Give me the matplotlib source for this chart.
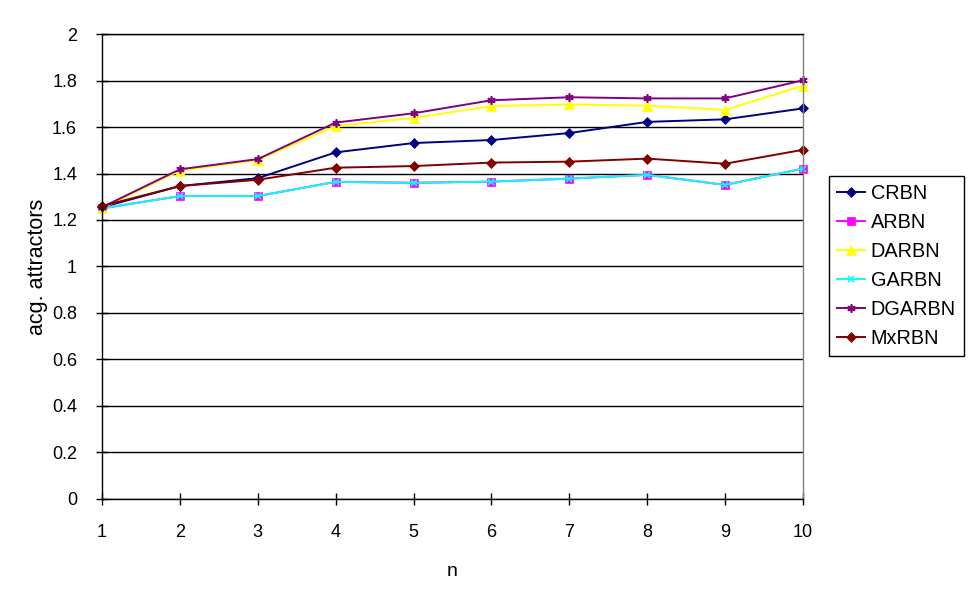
import matplotlib
matplotlib.use('Agg')
from matplotlib import pyplot as plt

plt.rcParams['font.family'] = ['Liberation Sans', 'DejaVu Sans']

n = [1, 2, 3, 4, 5, 6, 7, 8, 9, 10]

crbn   = [1.255, 1.346, 1.380, 1.491, 1.531, 1.544, 1.574, 1.622, 1.633, 1.680]
arbn   = [1.250, 1.303, 1.303, 1.364, 1.360, 1.365, 1.378, 1.394, 1.351, 1.421]
darbn  = [1.250, 1.412, 1.458, 1.604, 1.639, 1.690, 1.697, 1.692, 1.673, 1.778]
garbn  = [1.250, 1.303, 1.303, 1.364, 1.360, 1.365, 1.378, 1.394, 1.351, 1.421]
dgarbn = [1.255, 1.418, 1.462, 1.619, 1.659, 1.715, 1.728, 1.723, 1.723, 1.801]
mxrbn  = [1.260, 1.346, 1.373, 1.425, 1.432, 1.447, 1.451, 1.464, 1.442, 1.502]

names = ['CRBN', 'ARBN', 'DARBN', 'GARBN', 'DGARBN', 'MxRBN']
series = [crbn, arbn, darbn, garbn, dgarbn, mxrbn]
colors = ['#000080', '#FF00FF', '#FFFF00', '#00FFFF', '#800080', '#800000']
markers = ['D', 's', '^', 'x', (6, 2, 0), 'D']
msizes = [5, 5.5, 6.5, 5, 6, 5]

fig = plt.figure(figsize=(9.7, 6.03), dpi=100)
ax = fig.add_axes([0.1052, 0.1725, 0.7226, 0.7711])

for name, s, c, m, ms in zip(names, series, colors, markers, msizes):
  ax.plot(n, s, color=c, marker=m, markersize=ms, linewidth=1.4,
          markeredgewidth=1.2 if m in ('x',) or isinstance(m, tuple) else 0.5,
          markeredgecolor=c, label=name, clip_on=False)

ax.set_xlim(1, 10)
ax.set_ylim(0, 2)
ax.set_xticks(n)
ax.set_yticks([0, 0.2, 0.4, 0.6, 0.8, 1, 1.2, 1.4, 1.6, 1.8, 2])
ax.set_yticklabels(['0', '0.2', '0.4', '0.6', '0.8', '1', '1.2', '1.4', '1.6', '1.8', '2'])
ax.yaxis.grid(True, color='black', linewidth=1.0)
ax.set_axisbelow(True)
ax.tick_params(direction='inout', length=8, width=1, labelsize=13, colors='black')
ax.tick_params(axis='x', pad=14)
ax.tick_params(axis='y', pad=14)

for sp in ['left', 'bottom', 'top']:
  ax.spines[sp].set_color('black')
  ax.spines[sp].set_linewidth(1.0)
ax.spines['right'].set_color('#808080')
ax.spines['right'].set_linewidth(1.0)

ax.set_xlabel('n', fontsize=14, labelpad=16)
ax.set_ylabel('acg. attractors', fontsize=15.5, labelpad=3)

leg = ax.legend(loc='upper left', bbox_to_anchor=(1.037, 0.6946), fontsize=14.3,
                frameon=True, fancybox=False, edgecolor='black', framealpha=1,
                handlelength=1.4, handletextpad=0.3, borderpad=0.4, labelspacing=0.5,
                borderaxespad=0)
leg.get_frame().set_linewidth(1.0)

fig.savefig('out.png', dpi=100)
